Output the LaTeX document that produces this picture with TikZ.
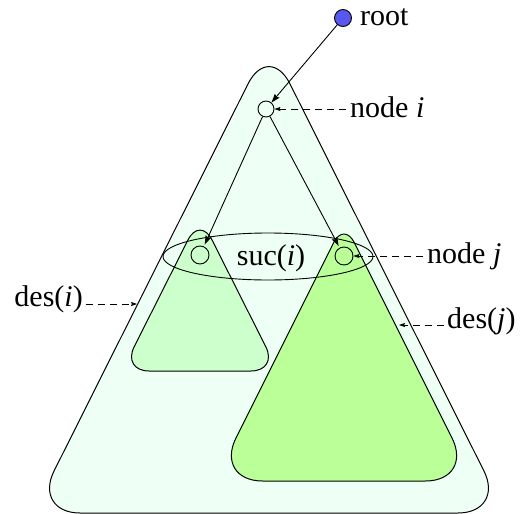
\documentclass[tikz,border=0pt]{standalone}
\usepackage{fontspec}
\setmainfont{Liberation Serif}
\usetikzlibrary{arrows.meta}
\definecolor{bigfill}{RGB}{238,255,246}
\definecolor{lfill}{RGB}{204,255,204}
\definecolor{rfill}{RGB}{187,255,153}
\definecolor{rootblue}{RGB}{88,88,240}
\tikzset{
  edge/.style={line width=0.9pt},
  tri/.style={line width=1pt, draw=black},
  circ/.style={circle, draw=black, line width=0.9pt, inner sep=0pt},
  lab/.style={font=\fontsize{30}{34}\selectfont, inner sep=0pt},
  sarrow/.style={edge, -{Stealth[length=9pt,width=6pt,inset=1.5pt]}},
  darrow/.style={line width=0.7pt, dash pattern=on 7pt off 5pt, -{Stealth[length=6pt,width=4pt,inset=1pt]}},
}
\begin{document}
\begin{tikzpicture}[x=1pt,y=-1pt]
\useasboundingbox (0,0) rectangle (520,514);
% big triangle des(i)
\path[tri, fill=bigfill, rounded corners=47pt] (269,513) -- (505,513) -- (269,42) -- (33,513) -- cycle;
% left small triangle
\path[tri, fill=lfill, rounded corners=27pt] (200,371) -- (278,371) -- (200,216) -- (122,371) -- cycle;
% right triangle des(j): corners drawn explicitly
\path[tri, fill=rfill] (333.72,242.56) .. controls (339.40,231.20) and (348.60,231.20) .. (354.28,242.56)
  -- (452.04,438.08) .. controls (463.89,461.78) and (452.01,481) .. (425.5,481)
  -- (262.5,481) .. controls (235.99,481) and (224.11,461.78) .. (235.96,438.08) -- cycle;
% suc ellipse
\draw[edge] (268,256.5) ellipse [x radius=105, y radius=23.5];
% circles
\node[circ, fill=rootblue, minimum size=17pt] (root) at (343,18) {};
\node[circ, minimum size=16pt] (ni) at (266,109) {};
\node[circ, minimum size=18pt] (ci) at (200,255) {};
\node[circ, minimum size=18pt] (nj) at (344,256) {};
% labels
\node[lab, anchor=base west] (troot) at (360,25) {root};
\node[lab, anchor=base west] (tni) at (350,117) {node \textit{i}};
\node[lab, anchor=base west] (tnj) at (427,263) {node \textit{j}};
\node[lab, anchor=base] (tsuc) at (271,265) {suc(\textit{i})};
\node[lab, anchor=base east] (tdi) at (83,306) {des(\textit{i})};
\node[lab, anchor=base west] (tdj) at (447,328) {des(\textit{j})};
% coordinates for free ends
\coordinate (edi) at (137,304);
\coordinate (edj) at (399,325);
% arrows
\draw[sarrow] (root) -- (ni);
\draw[sarrow, shorten >=2pt] (ni) -- (ci);
\draw[sarrow, shorten >=2pt] (ni) -- (nj);
\draw[darrow] ([xshift=-4pt,yshift=8pt]tni.base west) -- (ni);
\draw[darrow] ([xshift=-4pt,yshift=7pt]tnj.base west) -- (nj);
\draw[darrow] ([xshift=3pt,yshift=2pt]tdi.base east) -- (edi);
\draw[darrow] ([xshift=-3pt,yshift=3pt]tdj.base west) -- (edj);
\end{tikzpicture}
\end{document}
